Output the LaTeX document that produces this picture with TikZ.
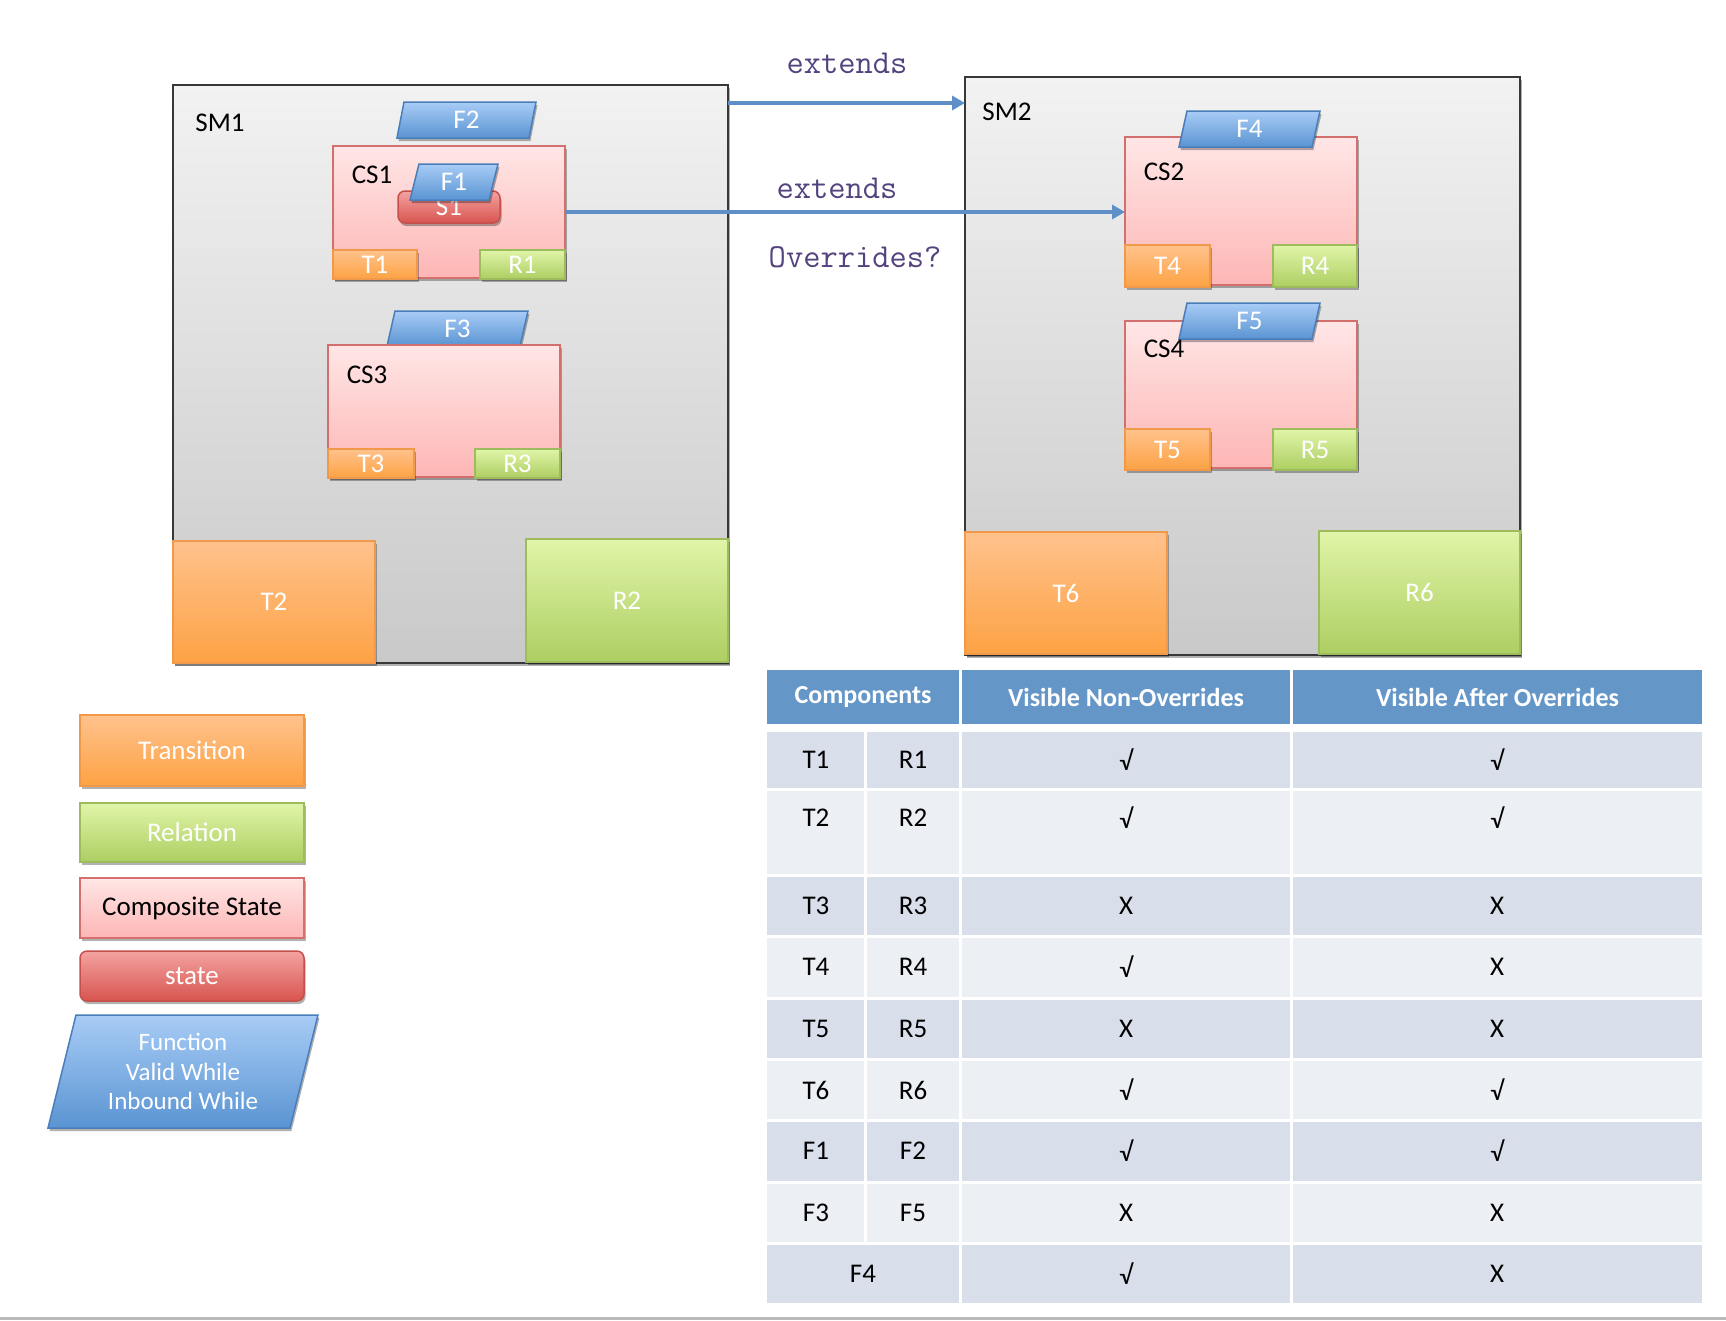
\documentclass[tikz,border=0pt]{standalone}
\usepackage{fontspec}
\setmainfont{Carlito}
\usetikzlibrary{shadows,arrows.meta}
\definecolor{smTop}{HTML}{F2F2F2}
\definecolor{smBot}{HTML}{C9C9C9}
\definecolor{orTop}{HTML}{FFC28C}
\definecolor{orBot}{HTML}{FDA244}
\definecolor{orLine}{HTML}{F0994A}
\definecolor{grTop}{HTML}{E0F5A8}
\definecolor{grBot}{HTML}{ADCE62}
\definecolor{grLine}{HTML}{9EBB5E}
\definecolor{pkTop}{HTML}{FFE6E6}
\definecolor{pkBot}{HTML}{FDB6B5}
\definecolor{pkLine}{HTML}{D3706D}
\definecolor{rdTop}{HTML}{F3A3A1}
\definecolor{rdBot}{HTML}{D8544F}
\definecolor{rdLine}{HTML}{C4504C}
\definecolor{blTop}{HTML}{A8CCF6}
\definecolor{blBot}{HTML}{5A94D2}
\definecolor{blLine}{HTML}{4A7EBB}
\definecolor{arrowc}{HTML}{5E8FC6}
\definecolor{monoc}{HTML}{54437E}
\definecolor{hdr}{HTML}{6497C8}
\definecolor{rowA}{HTML}{D9DFEA}
\definecolor{rowB}{HTML}{ECEFF4}
\newcommand\ck{√}
\newcommand\bx[7]{\node[#1, anchor=north west, minimum width={#4-#2}, minimum height={#5-#3}] (#6) at (#2,#3) {#7};}
\newcommand\para[8]{%
  \path[fnbox] (#2,#5) -- ({#2+#6},#3) -- ({#4+#6},#3) -- (#4,#5) -- cycle;
  \node[#8] (#1) at ({(#2+#4+#6)/2},{(#3+#5)/2}) {#7};}
\begin{document}
\begin{tikzpicture}[x=1pt,y=-1pt,
  every node/.style={inner sep=0pt, outer sep=0pt},
  lbl/.style={font=\fontsize{27}{32}\selectfont, text=black},
  wlbl/.style={font=\fontsize{27}{32}\selectfont, text=white},
  mono/.style={font=\ttfamily\fontsize{33.5}{38}\selectfont, text=monoc},
  shd/.style={drop shadow={shadow xshift=1.5pt, shadow yshift=-3pt, opacity=0.3, fill=black}},
  smbox/.style={draw=black!78, line width=2pt, top color=smTop, bottom color=smBot, shd},
  trbox/.style={draw=orLine, line width=1.5pt, top color=orTop, bottom color=orBot, shd},
  rlbox/.style={draw=grLine, line width=1.5pt, top color=grTop, bottom color=grBot, shd},
  csbox/.style={draw=pkLine, line width=2pt, top color=pkTop, bottom color=pkBot, shd},
  stbox/.style={draw=rdLine, line width=1.5pt, rounded corners=7pt, top color=rdTop, bottom color=rdBot, shd},
  fnbox/.style={draw=blLine, line width=1.5pt, top color=blTop, bottom color=blBot, shd},
  arr/.style={draw=arrowc, line width=4pt, -{Triangle[length=13pt,width=14pt]}},
  hdrcell/.style={fill=hdr, text=white, font=\bfseries\fontsize{26}{30}\selectfont},
  tb/.style={font=\fontsize{27}{32}\selectfont, text=black}
]
\useasboundingbox (0,0) rectangle (1726,1320);
\fill[white] (0,0) rectangle (1726,1320);

% state machines
\bx{smbox}{173}{85}{728}{663}{SM1}{}
\bx{smbox}{965}{77}{1520}{655}{SM2}{}
\node[lbl] (SM1lbl) at (220,123) {SM1};
\node[lbl] (SM2lbl) at (1007,112) {SM2};

\bx{trbox,wlbl}{173}{541}{375}{663}{T2}{T2}
\bx{rlbox,wlbl}{526}{539}{728}{662}{R2}{R2}
\bx{trbox,wlbl}{965}{532}{1167}{654}{T6}{T6}
\bx{rlbox,wlbl}{1319}{531}{1520}{654}{R6}{R6}

% CS1
\para{F2}{397}{102}{529}{138}{7}{F2}{wlbl}
\bx{csbox}{333}{146}{565}{278}{CS1}{}
\node[lbl] (CS1lbl) at (372,175) {CS1};
\bx{stbox,wlbl}{398}{191}{500}{223}{S1}{S1}
\para{F1}{410}{164}{489}{200}{9}{F1}{wlbl}
\bx{trbox,wlbl}{333}{250}{417}{279}{T1}{T1}
\bx{rlbox,wlbl}{480}{250}{565}{279}{R1}{R1}

% CS3
\para{F3}{387}{311}{520}{346}{8}{F3}{wlbl}
\bx{csbox}{328}{345}{560}{477}{CS3}{}
\node[lbl] (CS3lbl) at (367,375) {CS3};
\bx{trbox,wlbl}{328}{449}{414}{478}{T3}{T3}
\bx{rlbox,wlbl}{475}{449}{560}{478}{R3}{R3}

% CS2
\bx{csbox}{1125}{137}{1357}{285}{CS2}{}
\para{F4}{1179}{111}{1312}{147}{8}{F4}{wlbl}
\node[lbl] (CS2lbl) at (1164,172) {CS2};
\bx{trbox,wlbl}{1125}{245}{1210}{287}{T4}{T4}
\bx{rlbox,wlbl}{1273}{245}{1357}{287}{R4}{R4}

% CS4
\bx{csbox}{1125}{321}{1357}{468}{CS4}{}
\para{F5}{1179}{303}{1312}{339}{8}{F5}{wlbl}
\node[lbl] (CS4lbl) at (1164,349) {CS4};
\bx{trbox,wlbl}{1125}{429}{1210}{470}{T5}{T5}
\bx{rlbox,wlbl}{1273}{429}{1357}{470}{R5}{R5}

% connectors
\coordinate (a1) at (0,103);
\draw[arr] (SM1.east |- a1) -- (SM2.west |- a1);
\draw[arr] (CS1.east) -- (CS1.east -| CS2.west);
\node[mono] (ext1) at (847,63) {extends};
\node[mono] (ext2) at (837,188) {extends};
\node[mono] (ovr) at (855,257) {Overrides?};

% legend
\bx{trbox,wlbl}{80}{715}{304}{786}{LT}{Transition}
\bx{rlbox,wlbl}{80}{803}{304}{862}{LR}{Relation}
\bx{csbox,lbl}{80}{878}{304}{938}{LC}{Composite State}
\bx{stbox,wlbl}{80}{951}{304}{1001}{LS}{state}
\para{LF}{48}{1015}{290}{1128}{28}{Function\\Valid While\\Inbound While}{text=white, align=center, font=\fontsize{25}{29.5}\selectfont}

% table
\foreach \xa/\xb/\tx/\nm in {767/959/Components/hA, 962/1290/Visible Non-Overrides/hC, 1293/1702/Visible After Overrides/hD}
  \node[hdrcell, anchor=north west, minimum width={\xb-\xa}, minimum height=54] (\nm) at (\xa,670) {\tx};

\foreach \ya/\yb/\yt/\cl/\ta/\tb/\tc/\td [count=\i] in {
  732/788/760/rowA/T1/R1/\ck/\ck,
  791/874/818/rowB/T2/R2/\ck/\ck,
  877/935/906/rowA/T3/R3/X/X,
  938/997/967/rowB/T4/R4/\ck/X,
  1000/1058/1029/rowA/T5/R5/X/X,
  1061/1119/1090/rowB/T6/R6/\ck/\ck,
  1122/1181/1151/rowA/F1/F2/\ck/\ck,
  1184/1242/1213/rowB/F3/F5/X/X}
{
  \fill[\cl] (767,\ya) rectangle (864,\yb);
  \fill[\cl] (867,\ya) rectangle (959,\yb);
  \fill[\cl] (962,\ya) rectangle (1290,\yb);
  \fill[\cl] (1293,\ya) rectangle (1702,\yb);
  \node[tb] (ra\i) at (816,\yt) {\ta};
  \node[tb] (rb\i) at (913,\yt) {\tb};
  \node[tb] (rc\i) at (1126,\yt) {\tc};
  \node[tb] (rd\i) at (1497,\yt) {\td};
}
\fill[rowA] (767,1245) rectangle (959,1303);
\fill[rowA] (962,1245) rectangle (1290,1303);
\fill[rowA] (1293,1245) rectangle (1702,1303);
\node[tb] (ra9) at (863,1274) {F4};
\node[tb] (rc9) at (1126,1274) {\ck};
\node[tb] (rd9) at (1497,1274) {X};

\draw[gray!55, line width=3pt] (0,1318) -- (1726,1318);
\end{tikzpicture}
\end{document}
